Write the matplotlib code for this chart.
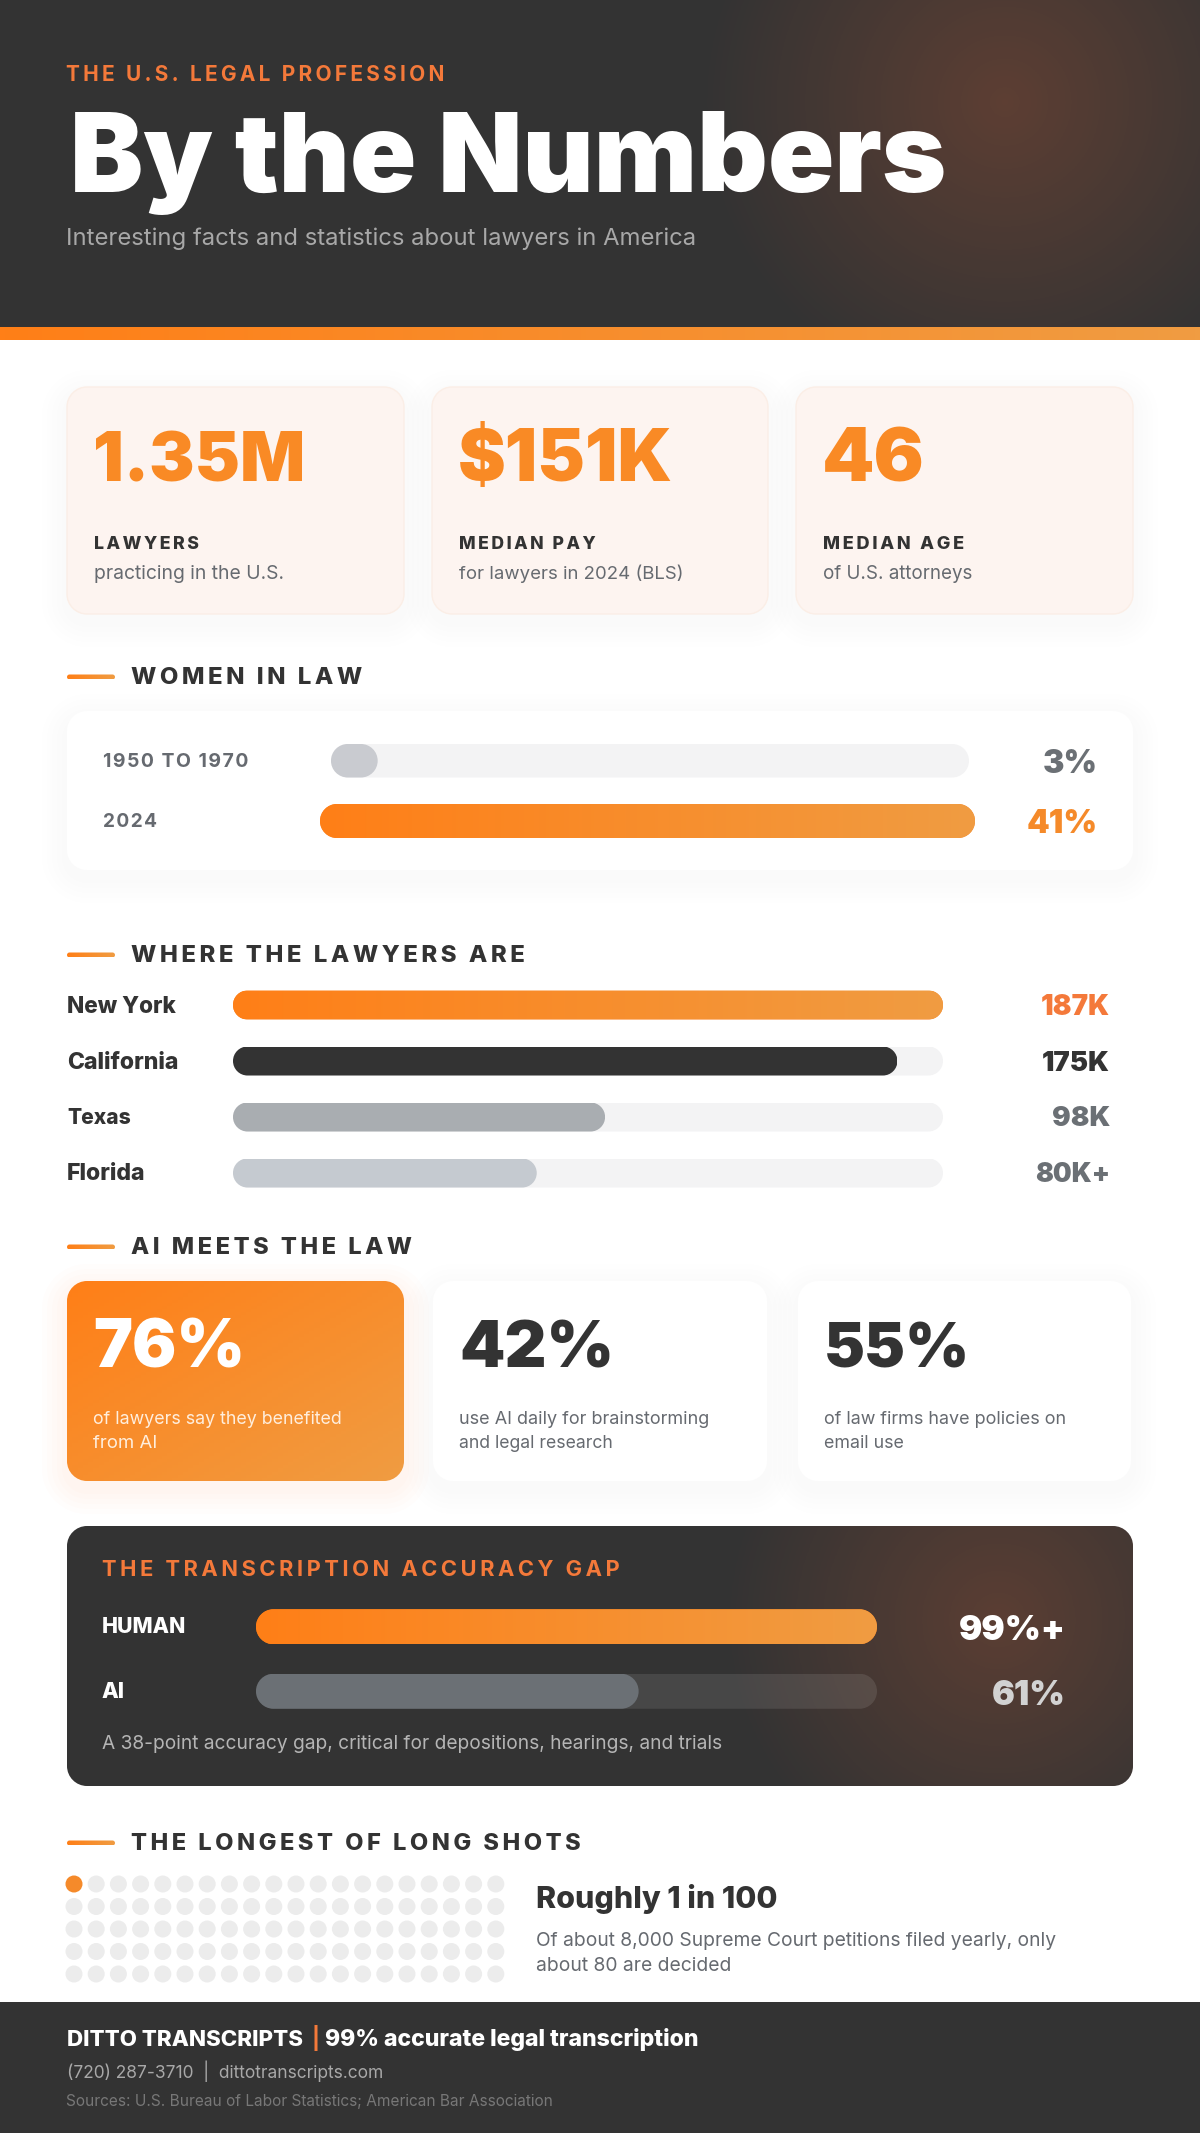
import numpy as np
import matplotlib
matplotlib.use("Agg")
import matplotlib.pyplot as plt
from matplotlib.patches import PathPatch
from matplotlib.path import Path
from matplotlib.colors import LinearSegmentedColormap

plt.rcParams['font.family'] = ['Inter', 'DejaVu Sans']

W, H = 1200, 2133

# data
women_labels = ["1950 TO 1970", "2024"]
women_values = [3, 41]
women_text = ["3%", "41%"]

states = ["New York", "California", "Texas", "Florida"]
state_values = [187, 175, 98, 80]
state_text = ["187K", "175K", "98K", "80K+"]

stat_numbers = ["1.35M", "$151K", "46"]
stat_labels = ["LAWYERS", "MEDIAN PAY", "MEDIAN AGE"]
stat_subs = ["practicing in the U.S.", "for lawyers in 2024 (BLS)", "of U.S. attorneys"]

ai_numbers = ["76%", "42%", "55%"]
ai_lines = [["of lawyers say they benefited", "from AI"],
            ["use AI daily for brainstorming", "and legal research"],
            ["of law firms have policies on", "email use"]]

gap_labels = ["HUMAN", "AI"]
gap_values = [99, 61]
gap_text = ["99%+", "61%"]

dots_total = 100
dots_hit = 1
dots_cols = 20

# colours
DARK = "#333333"
GREY = "#666a70"
ORANGE1 = "#ff7f17"
ORANGE2 = "#f09c42"
ACCENT = "#f4793a"
TRACK = "#f3f3f4"
orange_map = LinearSegmentedColormap.from_list("o", [ORANGE1, ORANGE2])

# letter spacing, matplotlib has none so thin spaces go between the letters
WIDE = "\u200a\u200a"

fig = plt.figure(figsize=(W / 100, H / 100), dpi=100, facecolor="white")
bg = fig.add_axes([0, 0, 1, 1])
bg.set_xlim(0, W)
bg.set_ylim(H, 0)
bg.axis("off")


def rbox(x0, y0, x1, y1, r, **kw):
    # real circular corners, boxstyle round is too square for the pills
    kw.setdefault("linewidth", 0)
    k = r * 0.4477
    v = [(x0 + r, y0), (x1 - r, y0),
         (x1 - k, y0), (x1, y0 + k), (x1, y0 + r),
         (x1, y1 - r),
         (x1, y1 - k), (x1 - k, y1), (x1 - r, y1),
         (x0 + r, y1),
         (x0 + k, y1), (x0, y1 - k), (x0, y1 - r),
         (x0, y0 + r),
         (x0, y0 + k), (x0 + k, y0), (x0 + r, y0),
         (x0 + r, y0)]
    c = [Path.MOVETO, Path.LINETO,
         Path.CURVE4, Path.CURVE4, Path.CURVE4,
         Path.LINETO,
         Path.CURVE4, Path.CURVE4, Path.CURVE4,
         Path.LINETO,
         Path.CURVE4, Path.CURVE4, Path.CURVE4,
         Path.LINETO,
         Path.CURVE4, Path.CURVE4, Path.CURVE4,
         Path.CLOSEPOLY]
    return PathPatch(Path(v, c), transform=bg.transData, **kw)


def txt(x, y, s, size, color=DARK, weight="bold", width=None, gap=None, ha="left"):
    # size is in pixels, width forces the text to a measured width
    if gap:
        s = gap.join(s)
    t = bg.text(x, y, s, fontsize=size * 0.72, color=color, fontweight=weight,
                ha=ha, va="baseline", zorder=5)
    if width:
        ext = t.get_window_extent(fig.canvas.get_renderer())
        t.set_fontsize(t.get_fontsize() * width / ext.width)
    return t


def shadow(x0, y0, x1, y1, r, color="#000000", alpha=0.004, spread=25, dy=8):
    for i in range(spread, 0, -5):
        bg.add_patch(rbox(x0 - i, y0 - i + dy, x1 + i, y1 + i + dy, r + i,
                          facecolor=color, alpha=alpha, zorder=1))


def grad_box(x0, y0, x1, y1, r, diagonal=False):
    p = rbox(x0, y0, x1, y1, r, facecolor="none")
    if diagonal:
        xx, yy = np.meshgrid(np.linspace(0, 1, 64), np.linspace(0, 1, 64))
        g = (xx + yy) / 2
    else:
        g = np.linspace(0, 1, 256).reshape(1, -1)
    im = bg.imshow(g, extent=[x0, x1, y1, y0], cmap=orange_map, aspect="auto", zorder=2)
    im.set_clip_path(p)


def glow(cx, cy, R, a, x0, y0, x1, y1, r):
    xx, yy = np.meshgrid(np.linspace(x0, x1, 300), np.linspace(y0, y1, 300))
    d = np.clip(1 - np.hypot(xx - cx, yy - cy) / R, 0, 1)
    img = np.zeros((300, 300, 4))
    img[..., 0], img[..., 1], img[..., 2] = 1.0, 0.42, 0.21
    img[..., 3] = a * d
    im = bg.imshow(img, extent=[x0, x1, y1, y0], aspect="auto", zorder=2.5)
    if r:
        im.set_clip_path(rbox(x0, y0, x1, y1, r, facecolor="none"))


def bar_axes(x0, x1, y0, y1, vmax, n):
    ax = fig.add_axes([x0 / W, 1 - y1 / H, (x1 - x0) / W, (y1 - y0) / H], zorder=2)
    ax.set_xlim(0, vmax)
    ax.set_ylim(n - 0.5, -0.5)
    ax.axis("off")
    ax.patch.set_alpha(0)
    return ax


def rounded_bar(ax, row, value, h, color=None):
    # barh on the section's own scale, corners come from a clip box in pixels
    xlim = ax.get_xlim()
    ylim = ax.get_ylim()
    bars = ax.barh([row], [value], height=h, color=color or ORANGE1, linewidth=0, zorder=1)
    a = bg.transData.inverted().transform(ax.transData.transform((0, row - h / 2)))
    b = bg.transData.inverted().transform(ax.transData.transform((value, row + h / 2)))
    clip = rbox(a[0], a[1], b[0], b[1], abs(b[1] - a[1]) / 2, facecolor="none")
    bars[0].set_clip_path(clip)
    if color is None:
        g = np.linspace(0, 1, 256).reshape(1, -1)
        im = ax.imshow(g, extent=[0, value, row + h / 2, row - h / 2],
                       cmap=orange_map, aspect="auto", zorder=2)
        im.set_clip_path(clip)
    ax.set_xlim(xlim)
    ax.set_ylim(ylim)
    return bars


def heading(y, s, w):
    grad_box(67, y - 2.5, 115, y + 2.5, 2.5)
    txt(131, y + 7, s, 20, weight=800, width=w, gap=WIDE)


# header
bg.add_patch(plt.Rectangle((0, 0), W, 327, facecolor=DARK, linewidth=0, zorder=1))
glow(1005, 102, 310, 0.21, 680, 0, 1200, 327, 0)
strip = np.linspace(0, 1, 256).reshape(1, -1)
bg.imshow(strip, extent=[0, W, 340, 327], cmap=orange_map, aspect="auto", zorder=3)
txt(66, 81, "THE U.S. LEGAL PROFESSION", 16, color=ACCENT, width=378, gap="\u2009")
txt(70, 192, "By the Numbers", 104, color="white", weight=900, width=875)
txt(66, 245, "Interesting facts and statistics about lawyers in America", 22,
    color="#a8a8a8", weight="normal", width=629)

# three stat cards
card_x = [(67, 404), (432, 768), (796, 1133)]
num_w = [212, 215, 103]
lab_w = [105, 136, 139]
sub_w = [190, 224, 149]
for i, (x0, x1) in enumerate(card_x):
    shadow(x0, 387, x1, 614, 20)
    bg.add_patch(rbox(x0, 387, x1, 614, 20, facecolor="#fdf4f0", edgecolor="#fbeee6",
                      linewidth=1, zorder=2))
    txt(x0 + 26, 481, stat_numbers[i], 76, color="#f98a25", weight=900, width=num_w[i])
    txt(x0 + 27, 549, stat_labels[i], 16, weight=800, width=lab_w[i], gap=WIDE)
    txt(x0 + 27, 579, stat_subs[i], 18, color=GREY, weight="normal", width=sub_w[i])

# women in law
heading(677, "WOMEN IN LAW", 232)
shadow(67, 711, 1133, 870, 20)
bg.add_patch(rbox(67, 711, 1133, 870, 20, facecolor="white", zorder=2))
w_rows = [(331, 969, 744, 777.5), (320, 975, 804, 838)]
w_val_w = [55, 71]
w_lab_w = [146, 54]
for i in range(2):
    x0, x1, y0, y1 = w_rows[i]
    ax = bar_axes(x0, x1, y0, y1, max(women_values), 1)
    rounded_bar(ax, 0, max(women_values), 1, TRACK)
    if i == 0:
        rounded_bar(ax, 0, women_values[i], 1, "#c9cbd0")
    else:
        rounded_bar(ax, 0, women_values[i], 1)
    yc = (y0 + y1) / 2
    txt(103, yc + 6, women_labels[i], 17, color=GREY, width=w_lab_w[i], gap="\u200a")
    txt(1098, yc + 12, women_text[i], 34, color=["#6b7075", "#f58a2a"][i], weight=900,
        width=w_val_w[i], ha="right")

# where the lawyers are
heading(955, "WHERE THE LAWYERS ARE", 395)
ax = bar_axes(233, 943, 977, 1201, max(state_values), 4)
bar_cols = [None, DARK, "#a9adb1", "#c5cad0"]
val_cols = [ACCENT, DARK, "#6b7075", "#6b7075"]
name_w = [109, 112, 64, 79]
val_w = [69, 68, 58, 75]
row_y = [1005, 1061, 1116, 1172]
for i, v in enumerate(state_values):
    rounded_bar(ax, i, max(state_values), 29 / 56, TRACK)
    rounded_bar(ax, i, v, 29 / 56, bar_cols[i])
    txt(67, row_y[i] + 8, states[i], 22, width=name_w[i], weight=800)
    txt(1110, row_y[i] + 10, state_text[i], 31, color=val_cols[i], weight=900,
        width=val_w[i], ha="right")

# AI meets the law
heading(1247, "AI MEETS THE LAW", 281)
ai_x = [(67, 404), (433, 767), (798, 1131)]
ai_w = [152, 155, 146]
line_w = [[249, 64], [250, 154], [242, 80]]
for i, (x0, x1) in enumerate(ai_x):
    if i == 0:
        shadow(x0, 1281, x1, 1481, 20, color="#ff7f17", alpha=0.012, spread=25)
        grad_box(x0, 1281, x1, 1481, 20, diagonal=True)
    else:
        shadow(x0, 1281, x1, 1481, 20)
        bg.add_patch(rbox(x0, 1281, x1, 1481, 20, facecolor="white", zorder=2))
    c = "white" if i == 0 else DARK
    c2 = "#ffeedd" if i == 0 else GREY
    lx = x0 + 26
    txt(lx, 1367, ai_numbers[i], 70, color=c, weight=900, width=ai_w[i])
    for j, line in enumerate(ai_lines[i]):
        txt(lx, 1424 + 24 * j, line, 18, color=c2, weight="normal", width=line_w[i][j])

# transcription accuracy gap
bg.add_patch(rbox(67, 1526, 1133, 1786, 20, facecolor=DARK, zorder=2))
glow(1000, 1620, 280, 0.2, 67, 1526, 1133, 1786, 20)
txt(102, 1576, "THE TRANSCRIPTION ACCURACY GAP", 18, color=ACCENT, width=512, gap=WIDE)
ax = bar_axes(256, 877, 1594.5, 1723.5, max(gap_values), 2)
gap_h = 35 / 64.5
for i, v in enumerate(gap_values):
    if i == 0:
        rounded_bar(ax, i, v, gap_h)
    else:
        rounded_bar(ax, i, max(gap_values), gap_h, (1, 1, 1, 0.1))
        rounded_bar(ax, i, v, gap_h, "#6b7075")
gap_lab_w = [84, 23]
gap_val_w = [107, 74]
gap_col = ["white", "#d2d2d2"]
for i in range(2):
    txt(102, [1633, 1698][i], gap_labels[i], 18, color="white", weight=800, width=gap_lab_w[i])
    txt(1066, [1640, 1705][i], gap_text[i], 40, color=gap_col[i], weight=900,
        width=gap_val_w[i], ha="right")
txt(102, 1749, "A 38-point accuracy gap, critical for depositions, hearings, and trials", 18,
    color="#b5b5b5", weight="normal", width=619)

# longest of long shots
heading(1843, "THE LONGEST OF LONG SHOTS", 449)
rows = dots_total // dots_cols
ax = bar_axes(62.9, 506.9, 1872.75, 1985.25, 1, rows)
ax.set_xlim(-0.5, dots_cols - 0.5)
idx = np.arange(dots_total)
dot_x = idx % dots_cols
dot_y = idx // dots_cols
dot_c = ["#f58a2a" if i < dots_hit else "#ececec" for i in idx]
ax.scatter(dot_x, dot_y, s=150, c=dot_c, linewidths=0)
txt(536, 1908, "Roughly 1 in 100", 30, width=241, weight=800)
txt(536, 1946, "Of about 8,000 Supreme Court petitions filed yearly, only", 18, color=GREY,
    weight="normal", width=520)
txt(536, 1971, "about 80 are decided", 18, color=GREY, weight="normal", width=195)

# footer
bg.add_patch(plt.Rectangle((0, 2002), W, H - 2002, facecolor=DARK, linewidth=0, zorder=1))
txt(67, 2046, "DITTO TRANSCRIPTS", 22, color="white", width=236, weight=800)
txt(312, 2046, "|", 22, color=ACCENT)
txt(325, 2046, "99% accurate legal transcription", 22, color="white", width=375, weight=800)
txt(67, 2078, "(720) 287-3710  |  dittotranscripts.com", 17, color="#a8a8a8", weight="normal",
    width=316)
txt(66, 2106, "Sources: U.S. Bureau of Labor Statistics; American Bar Association", 15,
    color="#777777", weight="normal", width=487)

bg.set_xlim(0, W)
bg.set_ylim(H, 0)
fig.savefig("out.png", dpi=100, facecolor="white")
